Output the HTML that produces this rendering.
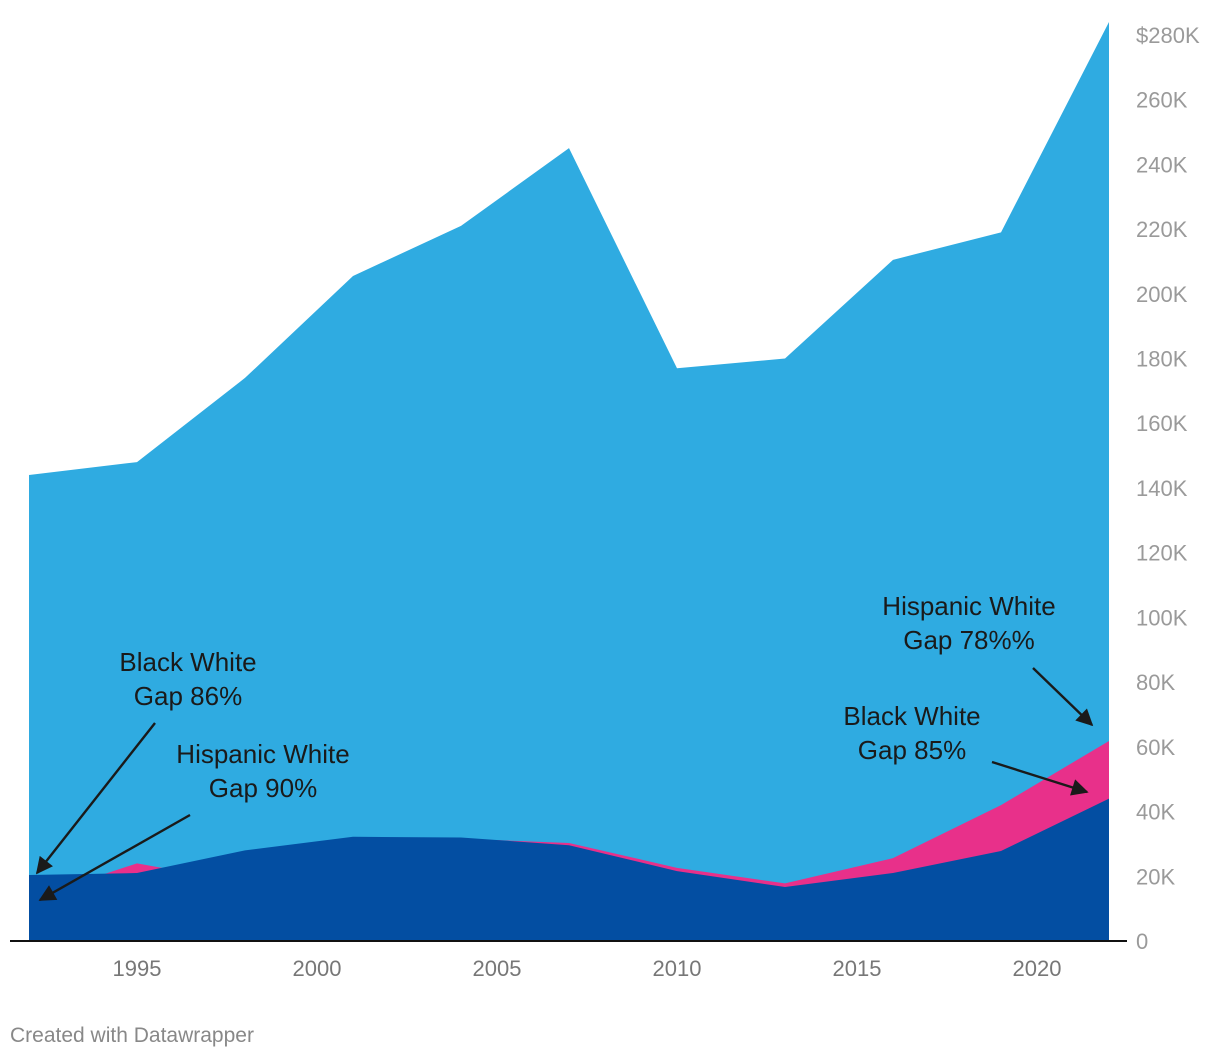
<!DOCTYPE html>
<html><head><meta charset="utf-8">
<style>
body{margin:0;background:#fff;width:1220px;height:1058px;overflow:hidden;font-family:"Liberation Sans",sans-serif;}
svg{display:block}
</style></head>
<body>
<svg id="chart" width="1220" height="1058" xmlns="http://www.w3.org/2000/svg"></svg>
<script>
const years = [1992,1995,1998,2001,2004,2007,2010,2013,2016,2019,2022];
const whiteVals = [144,148,174,205.5,221,245,177,180,210.5,219,284];
const hispanicVals = [13,24,18,31.5,31.6,30.3,22.6,17.8,25.6,42,61.8];
const blackVals = [20.4,21,28,32.2,32,29.6,21.6,16.7,21,27.8,44];
const yTicks = [0,20,40,60,80,100,120,140,160,180,200,220,240,260,280];
const xTicks = [1995,2000,2005,2010,2015,2020];

const svg = document.getElementById('chart');
const NS = 'http://www.w3.org/2000/svg';
const x = yr => 29 + (yr-1992)*36;
const y = v => 941 - v*3.236;

function areaPath(vals){
  let d = 'M'+x(years[0])+','+y(0);
  years.forEach((yr,i)=>{ d += ' L'+x(yr)+','+y(vals[i]); });
  d += ' L'+x(years[years.length-1])+','+y(0)+' Z';
  return d;
}
function mk(tag, attrs){ const e=document.createElementNS(NS,tag); for(const k in attrs) e.setAttribute(k,attrs[k]); svg.appendChild(e); return e; }

const defs = mk('defs',{});
defs.innerHTML = '<marker id="ah" viewBox="0 0 10 10" refX="9" refY="5" markerWidth="8" markerHeight="7" markerUnits="strokeWidth" orient="auto"><path d="M0,0 L10,5 L0,10 Z" fill="#1a1a1a"/></marker>';

const a1 = mk('path',{d:areaPath(whiteVals),fill:'#2fabe1'});


const a2 = mk('path',{d:areaPath(hispanicVals),fill:'#e8308a'});


const a3 = mk('path',{d:areaPath(blackVals),fill:'#034ea2'});



const base = mk('line',{x1:10,x2:1127,y1:941,y2:941,stroke:'#111','stroke-width':2});



yTicks.forEach(v=>{
  const t = mk('text',{x:1136,y:y(v)+8,'font-size':22,fill:'#9a9a9a'});
  t.textContent = (v===280?'$':'') + (v===0?'0':v+'K');
  
  
});
xTicks.forEach(v=>{
  const t = mk('text',{x:x(v),y:976,'font-size':22,fill:'#777','text-anchor':'middle'});
  t.textContent = v;
  
  
});

const notes = [
  {lines:['Black White','Gap 86%'],cx:188,y0:671,name:'annotation-black-1992'},
  {lines:['Hispanic White','Gap 90%'],cx:263,y0:763,name:'annotation-hispanic-1992'},
  {lines:['Hispanic White','Gap 78%%'],cx:969,y0:615,name:'annotation-hispanic-2022'},
  {lines:['Black White','Gap 85%'],cx:912,y0:725,name:'annotation-black-2022'}
];
notes.forEach(n=>{
  n.lines.forEach((l,i)=>{
    const t = mk('text',{x:n.cx,y:n.y0+i*34,'font-size':26,fill:'#1a1a1a','text-anchor':'middle'});
    t.textContent = l;
    
    
  });
});
const arrows = [[155,723,37,873],[190,815,40,900],[1033,668,1092,725],[992,762,1087,792]];
arrows.forEach(a=>{
  const l = mk('line',{x1:a[0],y1:a[1],x2:a[2],y2:a[3],stroke:'#1a1a1a','stroke-width':2.4,'marker-end':'url(#ah)'});
  
  
});

const cr = mk('text',{x:10,y:1042,'font-size':21,fill:'#888'});
cr.textContent = 'Created with Datawrapper';


</script>
</body></html>
